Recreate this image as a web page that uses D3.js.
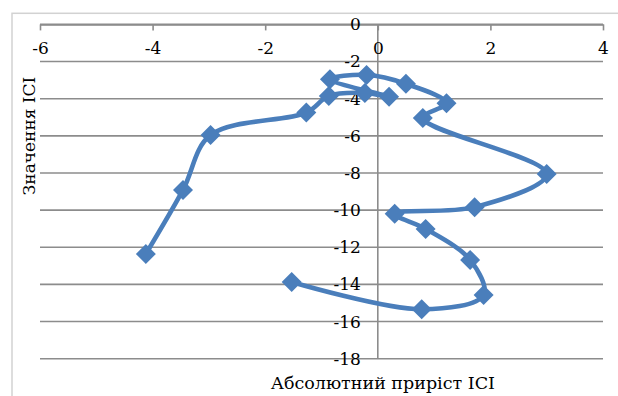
<!DOCTYPE html>
<html>
<head>
<meta charset="utf-8">
<script src="https://cdn.jsdelivr.net/npm/d3@7"></script>
<style>
  html, body { margin: 0; padding: 0; background: #fff; }
  svg { display: block; }
</style>
</head>
<body>
<svg id="chart" width="618" height="396"></svg>
<script>
// Absolute growth of ICI (x) against the ICI value (y), in series order
const growthValues = [-1.53, 0.78, 1.88, 1.64, 0.85, 0.30, 1.72, 3.00, 0.80, 1.22,
                      0.50, -0.20, -0.85, 0.20, -0.23, -0.87, -1.27, -2.97, -3.46, -4.12];
const iciValues    = [-13.87, -15.34, -14.57, -12.68, -11.01, -10.20, -9.84, -8.05, -5.04, -4.24,
                      -3.20, -2.72, -2.95, -3.90, -3.69, -3.85, -4.75, -5.95, -8.91, -12.36];
const xTicks = [-6, -4, -2, 0, 2, 4];
const yTicks = [0, -2, -4, -6, -8, -10, -12, -14, -16, -18];
const xTitle = "Абсолютний приріст ICI";
const yTitle = "Значення ICI";

const points = growthValues.map((g, i) => ({ x: g, y: iciValues[i] }));

const svg = d3.select("#chart");
const blue = "#4a7ebb";
const gridColor = "#8c8c8c";
const serif = '"DejaVu Serif", serif';

// outer chart frame
svg.append("rect")
  .attr("x", 12).attr("y", 13.3)
  .attr("width", 640).attr("height", 420)
  .attr("fill", "none").attr("stroke", "#d2d2d2").attr("stroke-width", 1.5);

const x = d3.scaleLinear().domain([-6, 4]).range([40, 603]);
const y = d3.scaleLinear().domain([-18, 0]).range([358.7, 24.4]);

// horizontal gridlines (value axis)
svg.append("g")
  .selectAll("line")
  .data(yTicks)
  .join("line")
  .attr("x1", x(-6)).attr("x2", x(4))
  .attr("y1", d => y(d)).attr("y2", d => y(d))
  .attr("stroke", gridColor).attr("stroke-width", 1.6);

// vertical axis line through x = 0
svg.append("line")
  .attr("x1", x(0)).attr("x2", x(0))
  .attr("y1", y(0)).attr("y2", y(-18))
  .attr("stroke", gridColor).attr("stroke-width", 1.6);

// horizontal axis crossing at the top (y = 0), ticks pointing down
const xAxis = svg.append("g")
  .attr("transform", `translate(0,${y(0)})`)
  .call(d3.axisBottom(x).tickValues(xTicks).tickSize(6).tickSizeOuter(0).tickPadding(12)
        .tickFormat(d => d));
xAxis.attr("font-family", serif).attr("font-size", 17);
xAxis.select(".domain").attr("stroke", gridColor).attr("stroke-width", 1.6);
xAxis.selectAll(".tick line").attr("stroke", gridColor).attr("stroke-width", 1.6);
xAxis.selectAll(".tick text").attr("fill", "#000");

// vertical axis labels to the left of the x = 0 line
const yAxis = svg.append("g")
  .attr("transform", `translate(${x(0)},0)`)
  .call(d3.axisLeft(y).tickValues(yTicks).tickSize(0).tickPadding(17).tickFormat(d => d));
yAxis.attr("font-family", serif).attr("font-size", 17);
yAxis.select(".domain").remove();
yAxis.selectAll(".tick text").attr("fill", "#000");

// smoothed series line
const line = d3.line()
  .x(d => x(d.x))
  .y(d => y(d.y))
  .curve(d3.curveCatmullRom.alpha(0.5));

svg.append("path")
  .datum(points)
  .attr("d", line)
  .attr("fill", "none")
  .attr("stroke", blue)
  .attr("stroke-width", 4.6)
  .attr("stroke-linejoin", "round")
  .attr("stroke-linecap", "round");

// diamond markers
const r = 10;
svg.append("g")
  .selectAll("path")
  .data(points)
  .join("path")
  .attr("transform", d => `translate(${x(d.x)},${y(d.y)})`)
  .attr("d", `M0,${-r}L${r},0L0,${r}L${-r},0Z`)
  .attr("fill", blue);

// axis titles
svg.append("text")
  .attr("x", x(0) + 5).attr("y", 389)
  .attr("text-anchor", "middle")
  .attr("font-family", serif)
  .attr("font-size", 17.5)
  .text(xTitle);

svg.append("text")
  .attr("transform", "translate(35,136) rotate(-90)")
  .attr("text-anchor", "middle")
  .attr("font-family", serif)
  .attr("font-size", 17)
  .text(yTitle);
</script>
</body>
</html>
